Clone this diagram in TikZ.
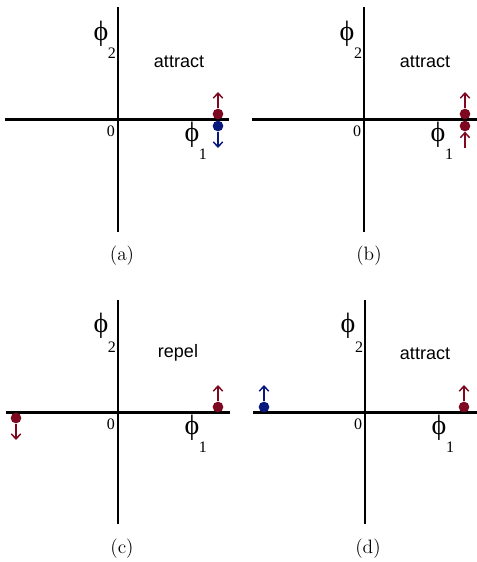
\documentclass[tikz,border=0pt]{standalone}
\usepackage{fontspec}
\newfontfamily\sansA{Liberation Sans}
\newfontfamily\serA{Liberation Serif}
\usetikzlibrary{arrows.meta}
\definecolor{dred}{RGB}{125,8,32}
\definecolor{dblue}{RGB}{8,24,125}
\tikzset{
  axis/.style={line width=1.6pt},
  phi/.style={inner sep=0pt, font=\serA\fontsize{21}{21}\selectfont},
  sub/.style={inner sep=0pt, font=\serA\fontsize{12}{12}\selectfont},
  word/.style={inner sep=0pt, font=\sansA\fontsize{13.5}{14}\selectfont},
  captext/.style={inner sep=0pt, font=\fontsize{14.5}{15}\selectfont},
  dot/.style={circle, inner sep=0pt, minimum size=8pt},
  rdot/.style={dot, fill=dred},
  bdot/.style={dot, fill=dblue},
  vec/.style={line width=1.1pt, -{Straight Barb[length=3.8pt,width=7pt]}}
}
\begin{document}
\begin{tikzpicture}[x=0.75pt,y=-0.75pt]
\useasboundingbox (0,0) rectangle (477,562);
% ---------- panel (a)
\coordinate (aL) at (5,119.5); \coordinate (aR) at (229,119.5);
\coordinate (aT) at (118,7); \coordinate (aB) at (118,232);
\draw[axis] (aL) -- (aR); \draw[axis] (aT) -- (aB);
\node[phi] (aphi2) at (101,34) {ϕ};
\node[sub] (as2) at (112,53) {2};
\node[word] (aw) at (179,62) {attract};
\node[sub] (a0) at (111,131) {0};
\node[phi] (aphi1) at (192,135) {ϕ};
\node[sub] (as1) at (203,154) {1};
\node[rdot] (ar) at (218,114) {};
\node[bdot] (ab) at (218,126) {};
\coordinate (ara) at (218,92); \coordinate (aba) at (218,148);
\draw[vec, dred] (ar.north) -- (ara);
\draw[vec, dblue] (ab.south) -- (aba);
\node[captext] (acap) at (122,256) {(a)};
% ---------- panel (b)
\coordinate (bL) at (252,119.5); \coordinate (bR) at (477,119.5);
\coordinate (bT) at (364,7); \coordinate (bB) at (364,232);
\draw[axis] (bL) -- (bR); \draw[axis] (bT) -- (bB);
\node[phi] (bphi2) at (347,34) {ϕ};
\node[sub] (bs2) at (358,53) {2};
\node[word] (bw) at (425,62) {attract};
\node[sub] (b0) at (357,131) {0};
\node[phi] (bphi1) at (438,135) {ϕ};
\node[sub] (bs1) at (449,154) {1};
\node[rdot] (br1) at (465,114) {};
\node[rdot] (br2) at (465,126) {};
\coordinate (br1a) at (465,92); \coordinate (br2a) at (465,148);
\draw[vec, dred] (br1.north) -- (br1a);
\draw[vec, dred] (br2a) -- (br2.south);
\node[captext] (bcap) at (369,256) {(b)};
% ---------- panel (c)
\coordinate (cL) at (6,412.5); \coordinate (cR) at (230,412.5);
\coordinate (cT) at (118,300); \coordinate (cB) at (118,524);
\draw[axis] (cL) -- (cR); \draw[axis] (cT) -- (cB);
\node[phi] (cphi2) at (101,326) {ϕ};
\node[sub] (cs2) at (112,347) {2};
\node[word] (cw) at (178,353) {repel};
\node[sub] (c0) at (111,424) {0};
\node[phi] (cphi1) at (192,428) {ϕ};
\node[sub] (cs1) at (203,447) {1};
\node[rdot] (cr1) at (218,407) {};
\node[rdot] (cr2) at (16,418) {};
\coordinate (cr1a) at (218,385); \coordinate (cr2a) at (16,440);
\draw[vec, dred] (cr1.north) -- (cr1a);
\draw[vec, dred] (cr2.south) -- (cr2a);
\node[captext] (ccap) at (122,549) {(c)};
% ---------- panel (d)
\coordinate (dL) at (253,412.5); \coordinate (dR) at (477,412.5);
\coordinate (dT) at (365,300); \coordinate (dB) at (365,524);
\draw[axis] (dL) -- (dR); \draw[axis] (dT) -- (dB);
\node[phi] (dphi2) at (348,326) {ϕ};
\node[sub] (ds2) at (359,347) {2};
\node[word] (dw) at (425,354) {attract};
\node[sub] (d0) at (358,424) {0};
\node[phi] (dphi1) at (439,428) {ϕ};
\node[sub] (ds1) at (450,447) {1};
\node[bdot] (db) at (264,407) {};
\node[rdot] (dr) at (464,407) {};
\coordinate (dba) at (264,385); \coordinate (dra) at (464,385);
\draw[vec, dblue] (db.north) -- (dba);
\draw[vec, dred] (dr.north) -- (dra);
\node[captext] (dcap) at (368,549) {(d)};
\end{tikzpicture}
\end{document}
